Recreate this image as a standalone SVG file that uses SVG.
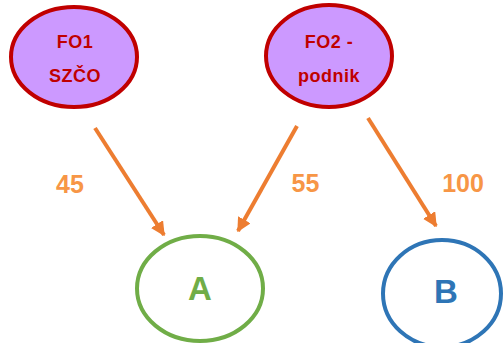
<svg xmlns="http://www.w3.org/2000/svg" width="503" height="343" viewBox="0 0 503 343">
<defs>
<marker id="ah" viewBox="0 0 10 10" refX="9" refY="5" markerWidth="3.6" markerHeight="3.6" orient="auto" markerUnits="strokeWidth">
<path d="M0,0 L10,5 L0,10 Z" fill="#ED7D31"/>
</marker>
<style>
.top ellipse{fill:#CC99FF;stroke:#C00000;stroke-width:4}
.tt{font-family:"Liberation Sans",Arial,sans-serif;font-weight:bold;font-size:18px;fill:#C00000;text-anchor:middle;letter-spacing:0.5px}
.lbl{font-family:"Liberation Sans",Arial,sans-serif;font-weight:bold;font-size:25px;fill:#F79646;text-anchor:middle}
.big{font-family:"Liberation Sans",Arial,sans-serif;font-weight:bold;font-size:33px;text-anchor:middle}
.conn line{stroke:#ED7D31;stroke-width:4;marker-end:url(#ah)}
</style>
</defs>
<rect width="503" height="343" fill="#fff"/>
<g id="FO1" class="top">
<ellipse cx="74" cy="57" rx="63" ry="50"/>
<text class="tt" x="75" y="48">FO1</text>
<text class="tt" x="75" y="82">SZČO</text>
</g>
<g id="FO2" class="top">
<ellipse cx="329" cy="56" rx="63" ry="51"/>
<text class="tt" x="329" y="48">FO2 -</text>
<text class="tt" x="329" y="82">podnik</text>
</g>
<g id="A">
<ellipse cx="200" cy="288.5" rx="63" ry="52.5" fill="none" stroke="#70AD47" stroke-width="4"/>
<text class="big" x="200" y="300" fill="#70AD47">A</text>
</g>
<g id="B">
<ellipse cx="442" cy="293.5" rx="59" ry="53.5" fill="none" stroke="#2E75B6" stroke-width="4"/>
<text class="big" x="446" y="303" fill="#2E75B6">B</text>
</g>
<g id="connectors" class="conn">
<line x1="95" y1="128" x2="164" y2="235"/>
<line x1="297" y1="126" x2="238" y2="231"/>
<line x1="368" y1="118" x2="436" y2="226"/>
</g>
<g id="labels">
<text class="lbl" x="70" y="193">45</text>
<text class="lbl" x="305.5" y="192">55</text>
<text class="lbl" x="463" y="192">100</text>
</g>
</svg>
